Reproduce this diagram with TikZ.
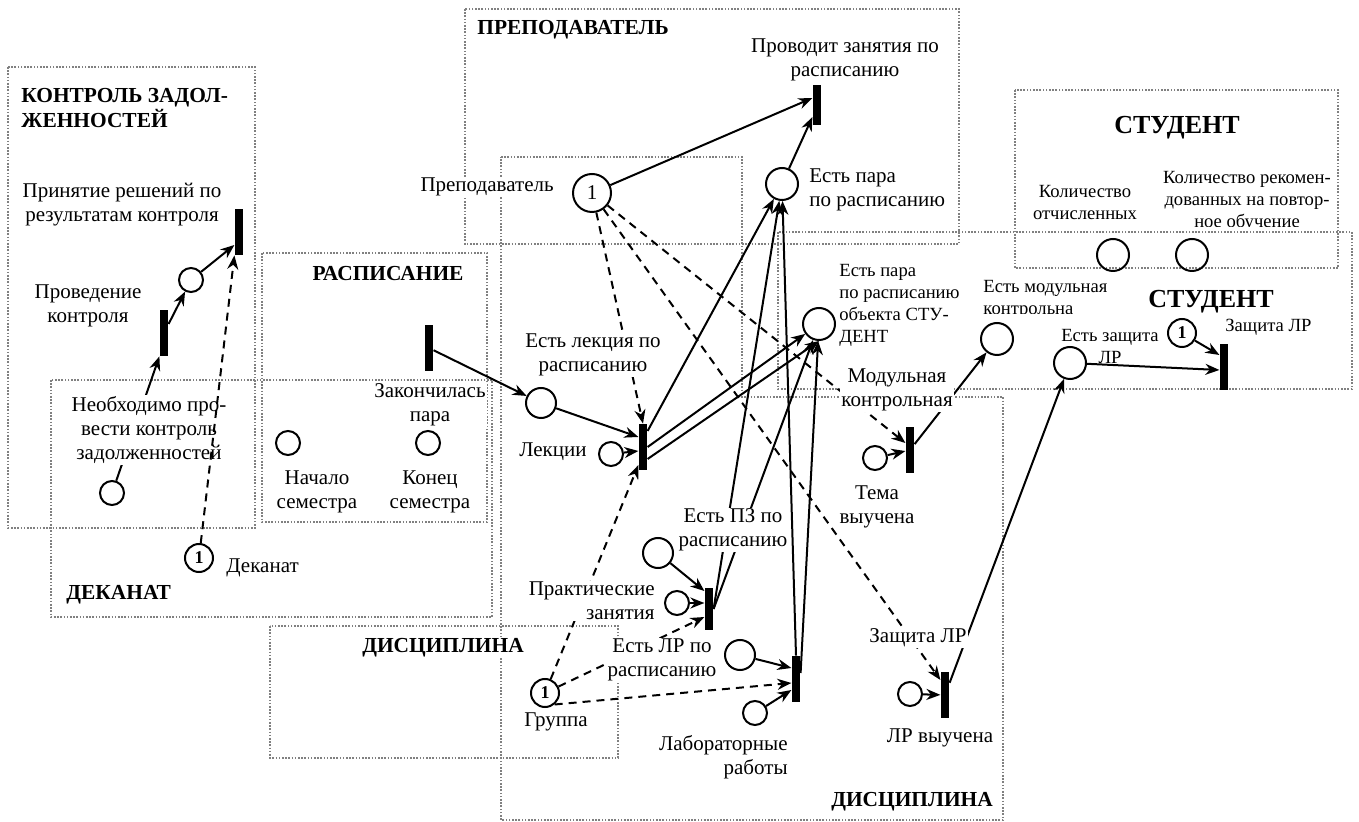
\documentclass[tikz,border=0pt]{standalone}
\usepackage{fontspec}
\setmainfont{Liberation Serif}
\usetikzlibrary{arrows.meta}
\tikzset{
  region/.style={draw=gray,line width=0.8pt,dash pattern=on 0.8pt off 0.8pt},
  place/.style={circle,draw,line width=1pt,minimum size=12pt,inner sep=0pt},
  bigplace/.style={place,minimum size=16pt},
  midplace/.style={place,minimum size=15pt},
  token/.style={place,minimum size=14pt,font=\bfseries\fontsize{9}{9}\selectfont},
  trans/.style={fill=black,minimum width=4.2pt,minimum height=23pt,inner sep=0pt},
  arc/.style={-{Stealth[length=7pt,width=5.5pt]},line width=1pt},
  tst/.style={arc,dash pattern=on 4pt off 3pt},
  lbl/.style={fill=white,inner sep=0.5pt,align=center,font=\fontsize{10.5}{12}\selectfont},
  slbl/.style={lbl,font=\fontsize{9.3}{11}\selectfont},
  hdr/.style={fill=white,inner sep=0.5pt,align=left,font=\bfseries\fontsize{10.7}{11}\selectfont},
  bighdr/.style={hdr,font=\bfseries\fontsize{13}{13}\selectfont}
}
\begin{document}
\begin{tikzpicture}[x=0.5pt,y=-0.5pt]
\useasboundingbox (0,0) rectangle (1359,822);
% regions
\draw[region] (8,67) rectangle (255,528);
\draw[region] (51,380) rectangle (492,617);
\draw[region] (262,253) rectangle (487,522);
\draw[region] (465,9) rectangle (959,244);
\draw[region] (501,157) -- (742,157) -- (742,397) -- (1003,397) -- (1003,820) -- (501,820) -- cycle;
\draw[region] (270,626) rectangle (618,758);
\draw[region] (778,232) rectangle (1352,389);
\draw[region] (1015,90) rectangle (1338,268);
% places
\node[place] (pCheck) at (191,280) {};
\node[place] (pNeed) at (112,493) {};
\node[token] (pDean) at (199,558) {1};
\node[place] (pBegin) at (288,443) {};
\node[place] (pEnd) at (428,443) {};
\node[midplace] (pLectSch) at (541,403) {};
\node[place] (pLect) at (611,454) {};
\node[place,minimum size=19pt,font=\fontsize{10.5}{12}\selectfont] (pTeacher) at (592,193) {1};
\node[bigplace] (pPair) at (782,184) {};
\node[bigplace] (pStudPair) at (819,324) {};
\node[place] (pTopic) at (875,458) {};
\node[bigplace] (pModul) at (997,339) {};
\node[midplace] (pPractSch) at (658,553) {};
\node[place] (pPract) at (677,603) {};
\node[midplace] (pLabSch) at (740,655) {};
\node[place] (pLab) at (755,713) {};
\node[token] (pGroup) at (545,693) {1};
\node[place] (pLabDone) at (910,694) {};
\node[bigplace] (pDefense) at (1070,363) {};
\node[token] (pStud) at (1182,333) {1};
\node[bigplace] (pExpelled) at (1113,255) {};
\node[bigplace] (pRepeat) at (1192,255) {};
% transitions
\node[trans] (tDecide) at (239,232) {};
\node[trans] (tCheck) at (164,333) {};
\node[trans] (tSched) at (429,348) {};
\node[trans,minimum height=20pt] (tTeach) at (817,105) {};
\node[trans] (tLect) at (643,447) {};
\node[trans,minimum height=21pt] (tPract) at (709,609) {};
\node[trans] (tLab) at (796,679) {};
\node[trans] (tModul) at (910,450) {};
\node[trans] (tDefD) at (945,695) {};
\node[trans] (tDefS) at (1224,367) {};
% arcs
\draw[arc] (tCheck) -- (pCheck);
\draw[arc] (pCheck) -- ([yshift=-6.5pt]tDecide.west);
\draw[arc] (pNeed) -- (tCheck.south west);
\draw[arc] (tSched) -- (pLectSch);
\draw[arc] (pLectSch) -- ([yshift=5pt]tLect.west);
\draw[arc] (pLect) -- ([yshift=-2pt]tLect.west);
\draw[arc] (pTeacher) -- ([yshift=3.5pt]tTeach.west);
\draw[arc] (pPair) -- ([yshift=-6pt]tTeach.west);
\draw[arc] ([yshift=8pt]tLect.east) -- (pPair);
\draw[arc] (tLect.east) -- (pStudPair);
\draw[arc] ([yshift=-6pt]tLect.east) -- (pStudPair.south);
\draw[arc] (pPractSch) -- ([yshift=9pt]tPract.west);
\draw[arc] (pPract) -- ([yshift=3pt]tPract.west);
\draw[arc] (tPract.east) -- (pPair);
\draw[arc] (tPract.east) -- (pStudPair);
\draw[arc] (pLabSch) -- ([yshift=5.5pt]tLab.west);
\draw[arc] (pLab) -- ([yshift=-5.5pt]tLab.west);
\draw[arc] (tLab.north) -- (pPair);
\draw[arc] ([yshift=3pt]tLab.east) -- (pStudPair);
\draw[arc] (pTopic) -- (tModul);
\draw[arc] (tModul) -- (pModul);
\draw[arc] (pLabDone) -- (tDefD);
\draw[arc] (tDefD) -- (pDefense);
\draw[arc] (pDefense) -- ([yshift=-1.5pt]tDefS.west);
\draw[arc] (pStud) -- ([yshift=6pt]tDefS.west);
\draw[tst] (pTeacher) -- (tLect.north);
\draw[tst] (pTeacher) -- ([yshift=7.5pt]tDefD.west);
\draw[tst] (pTeacher) -- ([yshift=3.5pt]tModul.west);
\draw[tst] (pGroup) -- ([yshift=-9pt]tLect.west);
\draw[tst] (pGroup) -- ([yshift=-4pt]tPract.west);
\draw[tst] (pGroup.-50) -- ([yshift=-2pt]tLab.west);
% labels
\node[hdr,anchor=west] (hControl) at (20,108) {КОНТРОЛЬ ЗАДОЛ-\\ЖЕННОСТЕЙ};
\node[lbl] (lDecide) at (122,205) {Принятие решений по\\результатам контроля};
\node[lbl] (lCheck) at (88,306) {Проведение\\контроля};
\node[lbl] (lNeed) at (149,430) {Необходимо про-\\вести контроль\\задолженностей};
\node[lbl,anchor=west] (lDean) at (225,568) {Деканат};
\node[hdr,anchor=west] (hDean) at (65,595) {ДЕКАНАТ};
\node[hdr] (hSched) at (388,274) {РАСПИСАНИЕ};
\node[lbl] (lSched) at (430,405) {Закончилась\\пара};
\node[lbl] (lBegin) at (317,492) {Начало\\семестра};
\node[lbl] (lEnd) at (430,492) {Конец\\семестра};
\node[hdr,anchor=west] (hTeacher) at (476,30) {ПРЕПОДАВАТЕЛЬ};
\node[lbl] (lTeach) at (845,60) {Проводит занятия по\\расписанию};
\node[lbl,anchor=west,align=left] (lPair) at (808,190) {Есть пара\\по расписанию};
\node[lbl,anchor=east] (lTeacher) at (555,187) {Преподаватель};
\node[lbl] (lLectSch) at (593,355) {Есть лекция по\\расписанию};
\node[lbl,anchor=east] (lLect) at (588,452) {Лекции};
\node[slbl,anchor=west,align=left] (lStudPair) at (838,305) {Есть пара\\по расписанию\\объекта СТУ-\\ДЕНТ};
\node[lbl] (lModul) at (897,390) {Модульная\\контрольная};
\node[lbl] (lTopic) at (877,507) {Тема\\выучена};
\node[lbl] (lPractSch) at (733,530) {Есть ПЗ по\\расписанию};
\node[lbl,anchor=east,align=right] (lPract) at (656,601) {Практические\\занятия};
\node[lbl] (lLabSch) at (662,660) {Есть ЛР по\\расписанию};
\node[lbl,anchor=east,align=right] (lLab) at (789,757) {Лабораторные\\работы};
\node[lbl] (lGroup) at (556,722) {Группа};
\node[hdr] (hDiscA) at (443,648) {ДИСЦИПЛИНА};
\node[lbl] (lDefD) at (918,638) {Защита ЛР};
\node[lbl] (lLabDone) at (940,738) {ЛР выучена};
\node[hdr] (hDiscB) at (912,802) {ДИСЦИПЛИНА};
\node[slbl,fill=none] (lDefense) at (1110,347) {Есть защита\\ЛР};
\node[slbl,anchor=west] (lDefS) at (1224,327) {Защита ЛР};
\node[bighdr] (hStudA) at (1211,302) {СТУДЕНТ};
\node[bighdr] (hStudB) at (1177,128) {СТУДЕНТ};
\begin{scope}
  \clip (960,270) rectangle (1130,314);
  \node[slbl,anchor=west,align=left] (lModulHave) at (982,299) {Есть модульная\\контрольна};
\end{scope}
\begin{scope}
  \clip (1020,160) rectangle (1160,221);
  \node[slbl] (lExpelled) at (1085,203) {Количество\\отчисленных};
\end{scope}
\begin{scope}
  \clip (1160,160) rectangle (1336,227);
  \node[slbl] (lRepeat) at (1247,201) {Количество рекомен-\\дованных на повтор-\\ное обучение};
\end{scope}
\draw[tst] (pDean) -- (tDecide.south west);
\end{tikzpicture}
\end{document}
